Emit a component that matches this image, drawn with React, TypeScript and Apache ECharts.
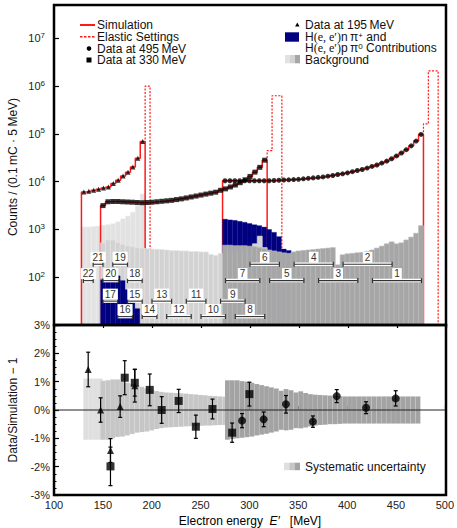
import React, { useEffect, useRef } from "react";
import * as echarts from "echarts";

const FONT = '"Liberation Sans", Arial, Helvetica, sans-serif';
const SERIF = '"Liberation Serif", "DejaVu Serif", serif';
const BIN = 5;
const Y_MIN = 10;
const Y_MAX = 5e7;

// ---------- top panel: simulation (counts / bin), lower edge of first bin ----------
const sim195Start = 128;
const sim195 = [6100, 6310, 6610, 6920, 7410, 7760, 9120, 10700, 13200, 15800, 20400, 30900, 69200];
const sim330Start = 147.5;
const sim330 = [3160, 3800, 3850, 3850, 3800, 3760, 3720, 3670, 3630, 3670, 3720, 3800, 3890, 3980, 4070, 4220, 4370, 4570, 4790, 5010, 5250, 5500, 5750, 6030, 6610, 7080, 7760, 8510, 9550, 10960, 12880, 15850, 19950, 28180];
const sim495Start = 272;
const sim495 = [10470, 10470, 10470, 10470, 10470, 10470, 10470, 10470, 10470, 10470, 10590, 10720, 10840, 10960, 11090, 11220, 11480, 11750, 12020, 12300, 12590, 13030, 13490, 14130, 14620, 15310, 16220, 17180, 17990, 19280, 20890, 22390, 24550, 26920, 30200, 34670, 39810, 46770, 56230, 70790, 97720];

// data points (on top of the simulation)
const data195 = [6100, 6310, 6610, 6920, 7410, 7760, 9120, 10700, 13200, 15800, 20400, 30900, 69200];
const data330 = [3160, 3800, 3850, 3850, 3800, 3760, 3720, 3670, 3630, 3670, 3720, 3800, 3890, 3980, 4070, 4220, 4370, 4570, 4790, 5010, 5250, 5500, 5750, 6030, 6610, 7080, 7760, 8510, 9550, 10960, 12880, 15850, 19950, 28180];
const data495 = [10470, 10470, 10470, 10470, 10470, 10470, 10470, 10470, 10470, 10470, 10590, 10720, 10840, 10960, 11090, 11220, 11480, 11750, 12020, 12300, 12590, 13030, 13490, 14130, 14620, 15310, 16220, 17180, 17990, 19280, 20890, 22390, 24550, 26920, 30200, 34670, 39810, 46770, 56230, 70790, 97720];

// elastic settings (bin edges, counts)
const elastic195Edges = [188, 193, 198];
const elastic195Counts = [69200, 1000000];
const elastic330Edges = [312.5, 317.5, 322.5, 332.5];
const elastic330Counts = [28180, 44700, 630000];
const elastic495Edges = [472, 477, 482, 492];
const elastic495Counts = [97720, 162000, 2090000];

// backgrounds
const bg195Start = 128;
const bg195 = [1122, 1122, 1148, 1175, 1230, 1259, 1318, 1445, 1660, 1905, 2291, 3162, 5495];
const bg330Start = 147.5;
const bg330 = [525, 603, 603, 537, 490, 457, 437, 417, 407, 398, 389, 385, 380, 372, 363, 363, 355, 355, 347, 347, 339, 339, 302, 288, 316, 316, 316, 324, 331, 355, 398, 501, 724, 417];
const bg495Start = 272;
const bg495 = [468, 468, 457, 457, 457, 447, 437, 417, 398, 372, 355, 339, 324, 316, 339, 355, 363, 372, 380, 389, 398, 407, 417, 182, 295, 309, 316, 324, 331, 347, 372, 407, 447, 501, 550, 501, 525, 603, 692, 832, 1202];

// H(e,e')n pi+ and H(e,e')p pi0 contributions
const pi330Start = 147.5;
const pi330 = [89, 93, 110, 107, 85, 55, 32, 22];
const pi495Start = 272;
const pi495 = [1641, 1585, 1549, 1479, 1413, 1334, 1259, 1202, 1122, 1000, 871, 708, 389, 363];

// numbered energy ranges
const rangeNum = [1, 2, 3, 4, 5, 6, 7, 8, 9, 10, 11, 12, 13, 14, 15, 16, 17, 18, 19, 20, 21, 22];
const rangeLo = [425, 395, 370, 345, 320, 300, 275, 285, 270, 250, 235, 215, 200, 190, 175, 165, 150, 175, 160, 150, 140, 130];
const rangeHi = [475, 445, 410, 385, 355, 330, 310, 315, 295, 275, 255, 240, 220, 205, 190, 180, 165, 190, 175, 166, 150, 140];
const rangeRow = [85, 187, 85, 187, 85, 187, 85, 15, 31.6, 15, 31.6, 15, 31.6, 15, 31.6, 15, 31.6, 85, 187, 85, 187, 85];

// ---------- bottom panel ----------
const sysLowStart = 130;
const sysLowUp = [1.11, 1.11, 1.11, 1.11];
const sysLowDn = [-1.05, -1.05, -1.05, -1.05];
const sysMidStart = 147.5;
const sysMidUp = [1.03, 1.05, 1.08, 1.08, 1.0, 0.96, 0.92, 0.88, 0.82, 0.76, 0.72, 0.67, 0.64, 0.62, 0.61, 0.6, 0.59, 0.58, 0.56, 0.55, 0.53, 0.52, 0.5, 0.49, 0.48, 0.47];
const sysMidDn = [-1.05, -1.05, -1.0, -0.95, -0.94, -0.9, -0.85, -0.8, -0.78, -0.76, -0.72, -0.67, -0.64, -0.62, -0.61, -0.6, -0.59, -0.58, -0.57, -0.57, -0.56, -0.55, -0.55, -0.54, -0.53, -0.53];
const sysHighStart = 275;
const sysHighUp = [1.05, 1.05, 1.05, 1.02, 1.0, 0.96, 0.92, 0.88, 0.84, 0.8, 0.76, 0.68, 0.74, 0.7, 0.62, 0.66, 0.6, 0.56, 0.54, 0.53, 0.52, 0.51, 0.5, 0.49, 0.48, 0.48, 0.48, 0.48, 0.48, 0.48, 0.48, 0.48, 0.48, 0.48, 0.48, 0.48, 0.48, 0.48, 0.48, 0.48];
const sysHighDn = [-1.05, -1.02, -1.0, -0.98, -0.96, -0.94, -0.9, -0.87, -0.84, -0.8, -0.76, -0.7, -0.72, -0.7, -0.64, -0.65, -0.62, -0.58, -0.55, -0.53, -0.52, -0.5, -0.5, -0.49, -0.48, -0.48, -0.48, -0.48, -0.48, -0.48, -0.48, -0.48, -0.48, -0.48, -0.48, -0.48, -0.48, -0.48, -0.48, -0.48];

const ratio195E = [135, 147.7, 157.8, 167.7, 182.7];
const ratio195V = [1.43, 0.0, -1.43, 0.12, 0.86];
const ratio195Err = [0.61, 0.43, 0.42, 0.38, 0.58];
const ratio330E = [157.8, 172.4, 182.7, 198, 210.2, 227.6, 245.2, 262.2, 282.3, 300];
const ratio330V = [-1.99, 1.14, 0.96, 0.71, 0.0, 0.32, -0.59, 0.035, -0.8, 0.56];
const ratio330Err = [0.68, 0.6, 0.47, 0.56, 0.47, 0.41, 0.41, 0.35, 0.34, 0.42];
const ratio495E = [292.5, 314.6, 337.4, 365, 389.4, 419.4, 449.7];
const ratio495V = [-0.375, -0.33, 0.2, -0.41, 0.49, 0.08, 0.41];
const ratio495Err = [0.25, 0.26, 0.31, 0.2, 0.23, 0.21, 0.27];

const xTicks = [100, 150, 200, 250, 300, 350, 400, 450, 500];

// ---------- layout ----------
const GL = 54;
const GW = 392;
const T1 = 5;
const H1 = 320;
const T2 = 325;
const H2 = 170;

const RED = "#ff1a1a";
const BLUE = "#000080";
const C_LIGHT = "#e2e2e2";
const C_MID = "#d2d2d2";
const C_DARK = "#a6a6a6";
const S_LIGHT = "#dfdfdf";
const S_MID = "#c6c6c6";
const S_DARK = "#a3a3a3";

function binRows(start: number, vals: number[]) {
  return vals.map((v, i) => [start + i * BIN, start + (i + 1) * BIN, v]);
}
function centers(start: number, vals: number[]) {
  return vals.map((v, i) => [start + (i + 0.5) * BIN, v]);
}
function stepPts(start: number, vals: number[]) {
  const pts: number[][] = [[start, Y_MIN]];
  vals.forEach((v, i) => {
    pts.push([start + i * BIN, v]);
    pts.push([start + (i + 1) * BIN, v]);
  });
  pts.push([start + vals.length * BIN, Y_MIN]);
  return pts;
}
function edgeStep(edges: number[], counts: number[]) {
  const pts: number[][] = [];
  counts.forEach((c, i) => {
    pts.push([edges[i], c]);
    pts.push([edges[i + 1], c]);
  });
  pts.push([edges[edges.length - 1], Y_MIN]);
  return pts;
}
function bandRows(start: number, up: number[], dn: number[]) {
  return up.map((u, i) => [start + i * BIN, start + (i + 1) * BIN, dn[i], u]);
}

function histSeries(name: string, rows: number[][], color: string, z: number, stroke?: string) {
  return {
    name,
    type: "custom",
    xAxisIndex: 0,
    yAxisIndex: 0,
    z,
    clip: true,
    encode: { x: [0, 1], y: 2 },
    data: rows,
    renderItem: (params: any, api: any) => {
      const p0 = api.coord([api.value(0), api.value(2)]);
      const p1 = api.coord([api.value(1), api.value(2)]);
      const cs = params.coordSys;
      const bottom = cs.y + cs.height;
      return {
        type: "rect",
        shape: { x: p0[0], y: p0[1], width: p1[0] - p0[0], height: bottom - p0[1] },
        style: { fill: color, stroke: stroke || color, lineWidth: stroke ? 0.6 : 0.3 },
      };
    },
  };
}

function bandSeries(name: string, rows: number[][], color: string, z: number) {
  return {
    name,
    type: "custom",
    xAxisIndex: 1,
    yAxisIndex: 1,
    z,
    clip: true,
    encode: { x: [0, 1], y: [2, 3] },
    data: rows,
    renderItem: (params: any, api: any) => {
      const a = api.coord([api.value(0), api.value(3)]);
      const b = api.coord([api.value(1), api.value(2)]);
      return {
        type: "rect",
        shape: { x: a[0], y: a[1], width: b[0] - a[0], height: b[1] - a[1] },
        style: { fill: color, stroke: "rgba(255,255,255,0.22)", lineWidth: 0.4 },
      };
    },
  };
}

function errSeries(name: string, xs: number[], vs: number[], es: number[]) {
  return {
    name,
    type: "custom",
    xAxisIndex: 1,
    yAxisIndex: 1,
    z: 8,
    encode: { x: 0, y: 1 },
    data: xs.map((x, i) => [x, vs[i], es[i]]),
    renderItem: (params: any, api: any) => {
      const x = api.value(0), v = api.value(1), e = api.value(2);
      const top = api.coord([x, v + e]);
      const bot = api.coord([x, v - e]);
      const st = { stroke: "#000", lineWidth: 1.2 };
      return {
        type: "group",
        children: [
          { type: "line", shape: { x1: top[0], y1: top[1], x2: bot[0], y2: bot[1] }, style: st },
          { type: "line", shape: { x1: top[0] - 2, y1: top[1], x2: top[0] + 2, y2: top[1] }, style: st },
          { type: "line", shape: { x1: bot[0] - 2, y1: bot[1], x2: bot[0] + 2, y2: bot[1] }, style: st },
        ],
      };
    },
  };
}

const supRich = {
  b: { fontSize: 11, fontFamily: FONT, color: "#222", lineHeight: 14 },
  s: { fontSize: 8, fontFamily: FONT, color: "#222", lineHeight: 7, verticalAlign: "top" },
};

function buildOption() {
  const legendText = (x: number, y: number, text: string, rich?: any) => ({
    type: "text",
    x,
    y,
    z: 120,
    style: {
      text,
      rich,
      font: `12px ${FONT}`,
      fill: "#111",
      align: "left",
      textAlign: "left",
      verticalAlign: "middle",
      textVerticalAlign: "middle",
    },
  });
  const legRich = {
    n: { fontSize: 12, fontFamily: FONT, color: "#111", lineHeight: 11 },
    r: { fontSize: 12, fontFamily: SERIF, color: "#111", lineHeight: 11 },
    s: { fontSize: 8, fontFamily: FONT, color: "#111", lineHeight: 5, verticalAlign: "top" },
  };

  const graphic: any[] = [
    // frames
    { type: "rect", z: 100, shape: { x: GL, y: T1, width: GW, height: H1 }, style: { fill: "none", stroke: "#000", lineWidth: 2.5 } },
    { type: "rect", z: 100, shape: { x: GL, y: T2, width: GW, height: H2 }, style: { fill: "none", stroke: "#000", lineWidth: 2.5 } },
    // top-left legend
    { type: "line", z: 120, shape: { x1: 80, y1: 25, x2: 95, y2: 25 }, style: { stroke: RED, lineWidth: 2 } },
    legendText(97, 25, "Simulation"),
    { type: "line", z: 120, shape: { x1: 80, y1: 36.7, x2: 95, y2: 36.7 }, style: { stroke: RED, lineWidth: 1.5, lineDash: [2.5, 1.5] } },
    legendText(97, 36.7, "Elastic Settings"),
    { type: "circle", z: 120, shape: { cx: 89, cy: 48.5, r: 2.3 }, style: { fill: "#000" } },
    legendText(97, 48.5, "Data at 495\u2009MeV"),
    { type: "rect", z: 120, shape: { x: 86.5, y: 57.5, width: 5, height: 5 }, style: { fill: "#000" } },
    legendText(97, 60, "Data at 330\u2009MeV"),
    // top-right legend
    { type: "polygon", z: 120, shape: { points: [[297.3, 22.5], [299.5, 26.5], [295.1, 26.5]] }, style: { fill: "#000" } },
    legendText(305, 25, "Data at 195\u2009MeV"),
    { type: "rect", z: 120, shape: { x: 285, y: 32.3, width: 14, height: 9.4 }, style: { fill: BLUE } },
    legendText(305, 36.5, "{n|H}{r|(e, e\u2032)}{n|n\u2009\u03c0}{s|+}{n| and}", legRich),
    legendText(305, 48, "{n|H}{r|(e, e\u2032)}{n|p\u2009\u03c0}{s|0}{n| Contributions}", legRich),
    { type: "rect", z: 120, shape: { x: 285, y: 55, width: 5, height: 8.3 }, style: { fill: C_LIGHT } },
    { type: "rect", z: 120, shape: { x: 290, y: 55, width: 5, height: 8.3 }, style: { fill: C_MID } },
    { type: "rect", z: 120, shape: { x: 295, y: 55, width: 5, height: 8.3 }, style: { fill: C_DARK } },
    legendText(305, 59.5, "Background"),
    // bottom legend
    { type: "rect", z: 120, shape: { x: 284, y: 462.7, width: 5.3, height: 7.5 }, style: { fill: S_LIGHT } },
    { type: "rect", z: 120, shape: { x: 289.3, y: 462.7, width: 5.3, height: 7.5 }, style: { fill: S_MID } },
    { type: "rect", z: 120, shape: { x: 294.6, y: 462.7, width: 5.4, height: 7.5 }, style: { fill: S_DARK } },
    legendText(305, 466.5, "Systematic uncertainty"),
    // axis titles
    {
      type: "text", z: 120, x: 13, y: 167, rotation: Math.PI / 2,
      style: { text: "Counts / (0.1\u2009mC \u00b7 5\u2009MeV)", font: `12px ${FONT}`, fill: "#111", align: "center", textAlign: "center", verticalAlign: "middle", textVerticalAlign: "middle" },
    },
    {
      type: "text", z: 120, x: 13, y: 410, rotation: Math.PI / 2,
      style: { text: "Data/Simulation \u2212 1", font: `12px ${FONT}`, fill: "#111", align: "center", textAlign: "center", verticalAlign: "middle", textVerticalAlign: "middle" },
    },
    {
      type: "text", z: 120, x: 250, y: 521,
      style: {
        text: "{n|Electron energy  }{i|E\u2032}{n|   [MeV]}",
        rich: {
          n: { fontSize: 12, fontFamily: FONT, color: "#111" },
          i: { fontSize: 12, fontFamily: FONT, fontStyle: "italic", color: "#111" },
        },
        align: "center", textAlign: "center", verticalAlign: "middle", textVerticalAlign: "middle",
      },
    },
  ];

  const redLine = (name: string, pts: number[][], dashed: boolean) => ({
    name,
    type: "line",
    xAxisIndex: 0,
    yAxisIndex: 0,
    z: 3,
    symbol: "none",
    data: pts,
    lineStyle: { color: RED, width: dashed ? 1.2 : 1.5, type: dashed ? [2, 1.5] : "solid" },
    clip: true,
  });

  const marker = (name: string, start: number, vals: number[], symbol: string, size: number) => ({
    name,
    type: "scatter",
    xAxisIndex: 0,
    yAxisIndex: 0,
    z: 12,
    symbol,
    symbolSize: size,
    itemStyle: { color: "#000" },
    data: centers(start, vals),
  });

  const ratioPts = (name: string, xs: number[], vs: number[], symbol: string, size: number) => ({
    name,
    type: "scatter",
    xAxisIndex: 1,
    yAxisIndex: 1,
    z: 9,
    symbol,
    symbolSize: size,
    itemStyle: { color: "#000" },
    data: xs.map((x, i) => [x, vs[i]]),
  });

  const rangeSeries = {
    name: "ranges",
    type: "custom",
    xAxisIndex: 0,
    yAxisIndex: 0,
    z: 10,
    encode: { x: [0, 1], y: 2 },
    data: rangeNum.map((n, i) => [rangeLo[i], rangeHi[i], rangeRow[i], n]),
    renderItem: (params: any, api: any) => {
      const a = api.coord([api.value(0), api.value(2)]);
      const b = api.coord([api.value(1), api.value(2)]);
      const n = api.value(3);
      const ink = "#333";
      return {
        type: "group",
        children: [
          { type: "line", shape: { x1: a[0], y1: a[1], x2: b[0], y2: b[1] }, style: { stroke: "#fff", lineWidth: 3.5 } },
          { type: "line", shape: { x1: a[0], y1: a[1], x2: b[0], y2: b[1] }, style: { stroke: ink, lineWidth: 1.1 } },
          { type: "line", shape: { x1: a[0], y1: a[1] - 2.5, x2: a[0], y2: a[1] + 2.5 }, style: { stroke: ink, lineWidth: 1.2 } },
          { type: "line", shape: { x1: b[0], y1: b[1] - 2.5, x2: b[0], y2: b[1] + 2.5 }, style: { stroke: ink, lineWidth: 1.2 } },
          {
            type: "text",
            x: (a[0] + b[0]) / 2,
            y: a[1] - 7,
            style: {
              text: String(n), fill: ink, font: `10px ${FONT}`,
              align: "center", textAlign: "center", verticalAlign: "middle", textVerticalAlign: "middle",
              backgroundColor: "#fff", padding: [1, 2, 0, 2],
            },
          },
        ],
      };
    },
  };

  return {
    animation: false,
    backgroundColor: "#fff",
    grid: [
      { left: GL, top: T1, width: GW, height: H1, containLabel: false },
      { left: GL, top: T2, width: GW, height: H2, containLabel: false },
    ],
    xAxis: [
      {
        gridIndex: 0, type: "value", min: 100, max: 500, interval: 50,
        axisLine: { show: false },
        axisTick: { show: true, inside: false, length: 3, lineStyle: { color: "#000", width: 1.2 } },
        axisLabel: { show: false },
        splitLine: { show: false },
      },
      {
        gridIndex: 1, type: "value", min: 100, max: 500, interval: 50,
        axisLine: { show: false },
        axisTick: { show: true, inside: true, length: 4, lineStyle: { color: "#000", width: 1.2 } },
        axisLabel: { show: true, fontSize: 11, fontFamily: FONT, color: "#222", margin: 4, formatter: (v: number) => (xTicks.includes(v) ? String(v) : "") },
        splitLine: { show: false },
      },
    ],
    yAxis: [
      {
        gridIndex: 0, type: "log", logBase: 10, min: Y_MIN, max: Y_MAX,
        axisLine: { show: false },
        axisTick: { show: true, inside: true, length: 5, lineStyle: { color: "#000", width: 1.2 } },
        axisLabel: {
          show: true, margin: 9,
          formatter: (v: number) => {
            const e = Math.log10(v);
            const r = Math.round(e);
            if (Math.abs(e - r) > 1e-6 || r < 2) return "";
            return `{b|10}{s|${r}}`;
          },
          rich: supRich,
        },
        splitLine: { show: false },
      },
      {
        gridIndex: 1, type: "value", min: -3, max: 3, interval: 1,
        axisLine: { show: false },
        axisTick: { show: true, inside: true, length: 5, lineStyle: { color: "#000", width: 1.2 } },
        minorTick: { show: true, splitNumber: 4, length: 2.5, lineStyle: { color: "#000", width: 1 } },
        axisLabel: { show: true, fontSize: 11, fontFamily: FONT, color: "#222", margin: 4, formatter: (v: number) => `${v}%` },
        splitLine: { show: false },
      },
    ],
    series: [
      histSeries("bg195", binRows(bg195Start, bg195), C_LIGHT, 2, "#ececec"),
      redLine("sim195", stepPts(sim195Start, sim195), false),
      redLine("sim330", stepPts(sim330Start, sim330), false),
      redLine("sim495", stepPts(sim495Start, sim495), false),
      redLine("el195", edgeStep(elastic195Edges, elastic195Counts), true),
      redLine("el330", edgeStep(elastic330Edges, elastic330Counts), true),
      redLine("el495", edgeStep(elastic495Edges, elastic495Counts), true),
      histSeries("pi495", binRows(pi495Start, pi495), BLUE, 4),
      histSeries("bg330", binRows(bg330Start, bg330), C_MID, 5, "#e8e8e8"),
      histSeries("bg495", binRows(bg495Start, bg495), C_DARK, 6, "#b8b8b8"),
      histSeries("pi330", binRows(pi330Start, pi330), BLUE, 7),
      rangeSeries,
      marker("d195", sim195Start, data195, "triangle", 5),
      marker("d330", sim330Start, data330, "rect", 5),
      marker("d495", sim495Start, data495, "circle", 5),
      // bottom panel
      bandSeries("sysLow", bandRows(sysLowStart, sysLowUp, sysLowDn), S_LIGHT, 2),
      bandSeries("sysMid", bandRows(sysMidStart, sysMidUp, sysMidDn), S_MID, 3),
      bandSeries("sysHigh", bandRows(sysHighStart, sysHighUp, sysHighDn), S_DARK, 4),
      {
        name: "zero", type: "line", xAxisIndex: 1, yAxisIndex: 1, z: 6, symbol: "none",
        data: [[100, 0], [500, 0]], lineStyle: { color: "#222", width: 1 },
      },
      errSeries("e195", ratio195E, ratio195V, ratio195Err),
      errSeries("e330", ratio330E, ratio330V, ratio330Err),
      errSeries("e495", ratio495E, ratio495V, ratio495Err),
      ratioPts("r195", ratio195E, ratio195V, "triangle", 7),
      ratioPts("r330", ratio330E, ratio330V, "rect", 8),
      ratioPts("r495", ratio495E, ratio495V, "circle", 8),
    ],
    graphic,
  };
}

export default function App() {
  const ref = useRef<HTMLDivElement>(null);
  useEffect(() => {
    if (!ref.current) return;
    const chart = echarts.init(ref.current, undefined, { renderer: "svg" });
    chart.setOption(buildOption() as any);
    return () => chart.dispose();
  }, []);
  return (
    <div
      ref={ref}
      style={{ position: "fixed", left: 0, top: 0, width: 457, height: 528, background: "#fff" }}
    />
  );
}
